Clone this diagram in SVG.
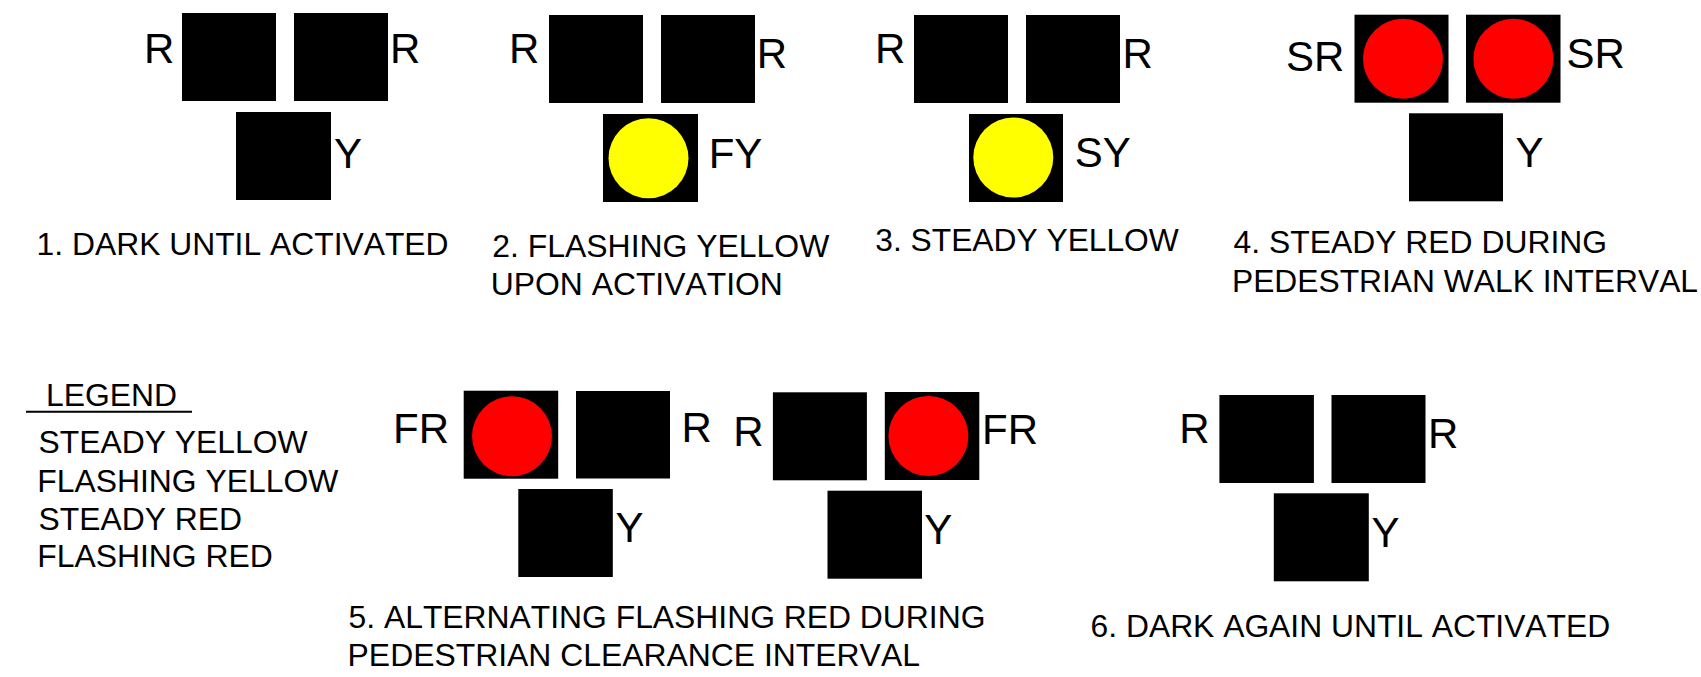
<svg xmlns="http://www.w3.org/2000/svg" width="1701" height="677" viewBox="0 0 1701 677">
<style>
.bg{fill:#ffffff}
.lamp{fill:#000000}
.y{fill:#ffff00}
.r{fill:#ff0000}
text{font-kerning:none;font-feature-settings:"kern" 0}
.lbl{font-family:"Liberation Sans",Arial,sans-serif;font-size:42px;fill:#000000}
.cap{font-family:"Liberation Sans",Arial,sans-serif;font-size:31.4px;fill:#000000}
</style>
<rect class="bg" x="0" y="0" width="1701" height="677"/>
<g id="connectors"/>
<g id="panel1">
<rect class="lamp" x="182" y="13" width="94" height="88"/>
<rect class="lamp" x="294" y="13" width="94" height="88"/>
<rect class="lamp" x="236" y="112" width="95" height="88"/>
<text class="lbl" x="144" y="63">R</text>
<text class="lbl" x="390" y="63">R</text>
<text class="lbl" x="334" y="168">Y</text>
<text class="cap" x="36.6" y="255" textLength="412" lengthAdjust="spacingAndGlyphs">1. DARK UNTIL ACTIVATED</text>
</g>
<g id="panel2">
<rect class="lamp" x="549" y="15" width="94" height="88"/>
<rect class="lamp" x="661" y="15" width="94" height="88"/>
<rect class="lamp" x="603" y="114" width="95" height="88"/>
<circle class="y" cx="648.5" cy="158.2" r="40"/>
<text class="lbl" x="509" y="63.3">R</text>
<text class="lbl" x="756.7" y="68.3">R</text>
<text class="lbl" x="708.7" y="168.3">FY</text>
<text class="cap" x="492.3" y="256.7" textLength="337" lengthAdjust="spacingAndGlyphs">2. FLASHING YELLOW</text>
<text class="cap" x="490.8" y="295" textLength="292" lengthAdjust="spacingAndGlyphs">UPON ACTIVATION</text>
</g>
<g id="panel3">
<rect class="lamp" x="914" y="15" width="94" height="88"/>
<rect class="lamp" x="1026" y="15" width="94" height="88"/>
<rect class="lamp" x="969" y="114" width="94" height="88"/>
<circle class="y" cx="1013.3" cy="157.5" r="40"/>
<text class="lbl" x="875" y="63.3">R</text>
<text class="lbl" x="1122.4" y="68.3">R</text>
<text class="lbl" x="1074.7" y="166.7">SY</text>
<text class="cap" x="875.3" y="250.7" textLength="303.5" lengthAdjust="spacingAndGlyphs">3. STEADY YELLOW</text>
</g>
<g id="panel4">
<rect class="lamp" x="1354.5" y="14.7" width="94" height="88"/>
<rect class="lamp" x="1466" y="14.7" width="94.5" height="88"/>
<rect class="lamp" x="1409" y="113.3" width="94" height="88"/>
<circle class="r" cx="1403" cy="58.8" r="40"/>
<circle class="r" cx="1513.4" cy="58.8" r="40"/>
<text class="lbl" x="1286" y="70.7">SR</text>
<text class="lbl" x="1566.5" y="67.7">SR</text>
<text class="lbl" x="1515.4" y="166.7">Y</text>
<text class="cap" x="1233.5" y="253.3" textLength="373.6" lengthAdjust="spacingAndGlyphs">4. STEADY RED DURING</text>
<text class="cap" x="1232" y="292.3" textLength="466" lengthAdjust="spacingAndGlyphs">PEDESTRIAN WALK INTERVAL</text>
</g>
<g id="legend">
<text class="cap" x="46" y="406" textLength="131" lengthAdjust="spacingAndGlyphs">LEGEND</text>
<line x1="26" y1="411.7" x2="192" y2="411.7" stroke="#000000" stroke-width="2"/>
<text class="cap" x="38.5" y="453.3" textLength="269" lengthAdjust="spacingAndGlyphs">STEADY YELLOW</text>
<text class="cap" x="37.3" y="491.7" textLength="301" lengthAdjust="spacingAndGlyphs">FLASHING YELLOW</text>
<text class="cap" x="38.5" y="530" textLength="203.5" lengthAdjust="spacingAndGlyphs">STEADY RED</text>
<text class="cap" x="37.3" y="567.3" textLength="235.5" lengthAdjust="spacingAndGlyphs">FLASHING RED</text>
</g>
<g id="panel5a">
<rect class="lamp" x="463.7" y="390.7" width="94.5" height="88"/>
<rect class="lamp" x="576" y="391" width="94" height="87.5"/>
<rect class="lamp" x="518.3" y="489" width="94.5" height="88"/>
<circle class="r" cx="512" cy="436.3" r="40"/>
<text class="lbl" x="393" y="443.3">FR</text>
<text class="lbl" x="681.6" y="441.7">R</text>
<text class="lbl" x="615.5" y="541.7">Y</text>
</g>
<g id="panel5b">
<rect class="lamp" x="772.9" y="392.3" width="94" height="88"/>
<rect class="lamp" x="884.8" y="392" width="94.5" height="88"/>
<rect class="lamp" x="827.5" y="490.7" width="94.5" height="88"/>
<circle class="r" cx="928.4" cy="436" r="40"/>
<text class="lbl" x="733.2" y="446">R</text>
<text class="lbl" x="982" y="444.3">FR</text>
<text class="lbl" x="924.2" y="544">Y</text>
</g>
<g id="caption5">
<text class="cap" x="348.6" y="628.3" textLength="636.8" lengthAdjust="spacingAndGlyphs">5. ALTERNATING FLASHING RED DURING</text>
<text class="cap" x="347.6" y="666" textLength="572.3" lengthAdjust="spacingAndGlyphs">PEDESTRIAN CLEARANCE INTERVAL</text>
</g>
<g id="panel6">
<rect class="lamp" x="1219.4" y="395" width="94.5" height="88"/>
<rect class="lamp" x="1331.5" y="395" width="94" height="88"/>
<rect class="lamp" x="1273.8" y="493.3" width="95" height="88"/>
<text class="lbl" x="1179.3" y="442.7">R</text>
<text class="lbl" x="1427.9" y="448.3">R</text>
<text class="lbl" x="1371.5" y="546.7">Y</text>
<text class="cap" x="1090.6" y="637.3" textLength="519.6" lengthAdjust="spacingAndGlyphs">6. DARK AGAIN UNTIL ACTIVATED</text>
</g>
</svg>
